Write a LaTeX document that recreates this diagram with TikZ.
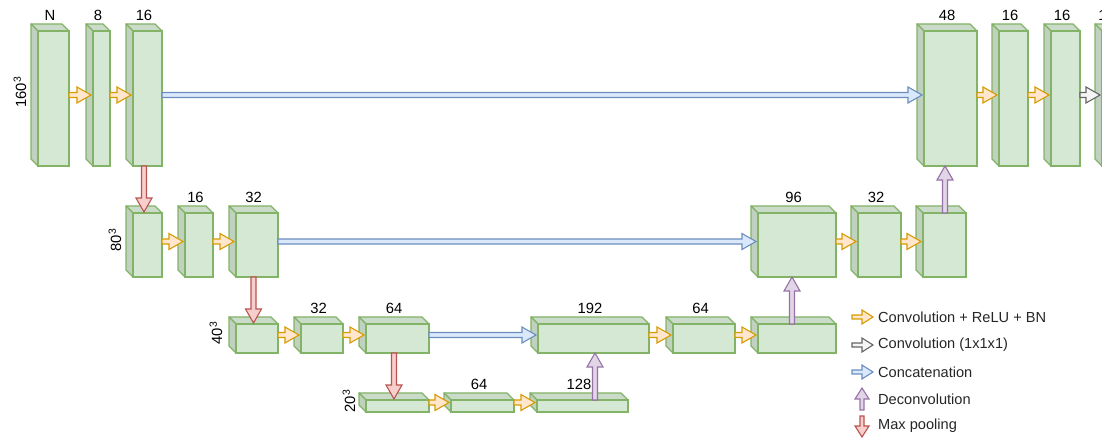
\documentclass[tikz,border=0pt]{standalone}
\usepackage{fontspec}
\setmainfont{Liberation Sans}
\usetikzlibrary{calc}

\definecolor{cubefill}{HTML}{D5E8D4}
\definecolor{cubeline}{HTML}{82B366}
\definecolor{convline}{HTML}{D79B00}
\definecolor{convfill}{HTML}{FFE6CC}
\definecolor{oneline}{HTML}{666666}
\definecolor{onefill}{HTML}{F5F5F5}
\definecolor{catline}{HTML}{6C8EBF}
\definecolor{catfill}{HTML}{DAE8FC}
\definecolor{upline}{HTML}{9673A6}
\definecolor{upfill}{HTML}{E1D5E7}
\definecolor{poolline}{HTML}{B85450}
\definecolor{poolfill}{HTML}{F8CECC}

\tikzset{
  flex/.style n args={3}{to path={let \p1=(\tikztostart), \p2=(\tikztotarget),
      \p3=($(\p2)!#3!(\p1)$) in
      ($(\p1)!#1!90:(\p2)$) -- ($(\p3)!#1!90:(\p2)$) -- ($(\p3)!#2!90:(\p2)$) -- (\p2)
      -- ($(\p3)!#2!-90:(\p2)$) -- ($(\p3)!#1!-90:(\p2)$) -- ($(\p1)!#1!-90:(\p2)$) -- cycle}},
  arr/.style={flex={2.5bp}{8bp}{14bp}, line width=1.1bp, line join=miter},
  small/.style={flex={2bp}{7bp}{11bp}},
  conv/.style={arr, draw=convline, fill=convfill},
  one/.style={arr, draw=oneline, fill=onefill},
  cat/.style={arr, draw=catline, fill=catfill},
  deconv/.style={arr, draw=upline, fill=upfill},
  pool/.style={arr, draw=poolline, fill=poolfill},
  cubetop/.style={draw=cubeline, fill=cubefill!95!black, line width=1.3bp, line join=round},
  cubeside/.style={draw=cubeline, fill=cubefill!90!black, line width=1.3bp, line join=round},
  cubefront/.style={draw=cubeline, fill=cubefill, line width=1.3bp},
  cubebox/.style={inner sep=0, outer sep=0, draw=none},
  cubelbl/.style={inner sep=0, font=\fontsize{14.8bp}{17bp}\selectfont},
  reslbl/.style={inner sep=0, rotate=90, font=\fontsize{14.8bp}{17bp}\selectfont},
  leglbl/.style={inner sep=0, anchor=west, text=black!85, font=\fontsize{14.6bp}{17bp}\selectfont},
}

% #1 label, #2 name, (#3,#4) top left, (#5,#6) bottom right
\newcommand{\cube}[6][]{%
  \filldraw[cubetop] (#3,#4) -- (#5-7,#4) -- (#5,#4+7) -- (#3+7,#4+7) -- cycle;
  \filldraw[cubeside] (#3,#4) -- (#3+7,#4+7) -- (#3+7,#6) -- (#3,#6-7) -- cycle;
  \filldraw[cubefront] (#3+7,#4+7) rectangle (#5,#6);
  \node[cubebox, minimum width={(#5-#3)*1bp}, minimum height={(#6-#4)*1bp}] (#2)
    at ({(#3+#5)/2},{(#4+#6)/2}) {};
  \if\relax\detokenize{#1}\relax\else
    \node[cubelbl] (#2-lbl) at ({(#3+#5)/2},#4-9) {#1};
  \fi
}

\begin{document}
\begin{tikzpicture}[x=1bp, y=-1bp]
\useasboundingbox (0,0) rectangle (1102,440);

% level 1
\cube[N]{r1a}{31}{24}{69}{166}
\cube[8]{r1b}{86}{24}{110}{166}
\cube[16]{r1c}{126}{24}{162}{166}
\cube[48]{r1d}{917}{24}{977}{166}
\cube[16]{r1e}{992}{24}{1028}{166}
\cube[16]{r1f}{1044}{24}{1080}{166}
\cube[1]{r1g}{1095}{24}{1110}{166}
% level 2
\cube{r2a}{126}{206}{162}{277}
\cube[16]{r2b}{178}{206}{213}{277}
\cube[32]{r2c}{229}{206}{278}{277}
\cube[96]{r2d}{751}{206}{836}{277}
\cube[32]{r2e}{851}{206}{901}{277}
\cube{r2f}{916}{206}{966}{277}
% level 3
\cube{r3a}{229}{317}{278}{353}
\cube[32]{r3b}{294}{317}{343}{353}
\cube[64]{r3c}{359}{317}{429}{353}
\cube[192]{r3d}{531}{317}{649}{353}
\cube[64]{r3e}{666}{317}{735}{353}
\cube{r3f}{751}{317}{836}{353}
% level 4
\cube{r4a}{359}{393}{429}{412}
\cube[64]{r4b}{444}{393}{514}{412}
\cube[128]{r4c}{530}{393}{628}{412}

\node[reslbl] (res1) at (20,92) {160\textsuperscript{3}};
\node[reslbl] (res2) at (115,240) {80\textsuperscript{3}};
\node[reslbl] (res3) at (216,333) {40\textsuperscript{3}};
\node[reslbl] (res4) at (349,401) {20\textsuperscript{3}};

% convolutions
\path[conv] (r1a.east) to ([xshift=5bp]r1b.west);
\path[conv] (r1b.east) to ([xshift=5bp]r1c.west);
\path[conv] (r1d.east) to ([xshift=5bp]r1e.west);
\path[conv] (r1e.east) to ([xshift=5bp]r1f.west);
\path[one] (r1f.east) to ([xshift=5bp]r1g.west);
\path[conv] (r2a.east) to ([xshift=5bp]r2b.west);
\path[conv] (r2b.east) to ([xshift=5bp]r2c.west);
\path[conv] (r2d.east) to ([xshift=5bp]r2e.west);
\path[conv] (r2e.east) to ([xshift=5bp]r2f.west);
\path[conv] (r3a.east) to ([xshift=5bp]r3b.west);
\path[conv] (r3b.east) to ([xshift=5bp]r3c.west);
\path[conv] (r3d.east) to ([xshift=5bp]r3e.west);
\path[conv] (r3e.east) to ([xshift=5bp]r3f.west);
\path[conv] (r4a.east) to ([xshift=5bp]r4b.west);
\path[conv] (r4b.east) to ([xshift=5bp]r4c.west);

% skip connections
\path[cat] (r1c.east) to ([xshift=5bp]r1d.west);
\path[cat] (r2c.east) to ([xshift=5bp]r2d.west);
\path[cat] (r3c.east) to ([xshift=5bp]r3d.west);

% pooling
\path[pool] (r1c.south) to ([yshift=-6bp]r2a.north);
\path[pool] (r2c.south) to ([yshift=-6bp]r3a.north);
\path[pool] (r3c.south) to ([yshift=-6bp]r4a.north);

% deconvolutions
\path[deconv] ([shift={(65bp,-7bp)}]r4c.north west) to ([xshift=64bp]r3d.south west);
\path[deconv] ([shift={(41bp,-7bp)}]r3f.north west) to ([xshift=41bp]r2d.south west);
\path[deconv] ([shift={(29bp,-7bp)}]r2f.north west) to ([xshift=28bp]r1d.south west);

% legend
\node[leglbl] (lg-conv) at (878,317) {Convolution + ReLU + BN};
\node[leglbl] (lg-one) at (878,345) {Convolution (1x1x1)};
\node[leglbl] (lg-cat) at (878,372) {Concatenation};
\node[leglbl] (lg-up) at (878,399) {Deconvolution};
\node[leglbl] (lg-pool) at (878,426) {Max pooling};
\path[conv, small] ([xshift=-26bp]lg-conv.west) to ([xshift=-5bp]lg-conv.west);
\path[one, small] ([xshift=-26bp]lg-one.west) to ([xshift=-5bp]lg-one.west);
\path[cat, small] ([xshift=-26bp]lg-cat.west) to ([xshift=-5bp]lg-cat.west);
\path[deconv, small] ([shift={(-16bp,-11bp)}]lg-up.west) to ([shift={(-16bp,11bp)}]lg-up.west);
\path[pool, small] ([shift={(-16bp,10bp)}]lg-pool.west) to ([shift={(-16bp,-11bp)}]lg-pool.west);
\end{tikzpicture}
\end{document}
